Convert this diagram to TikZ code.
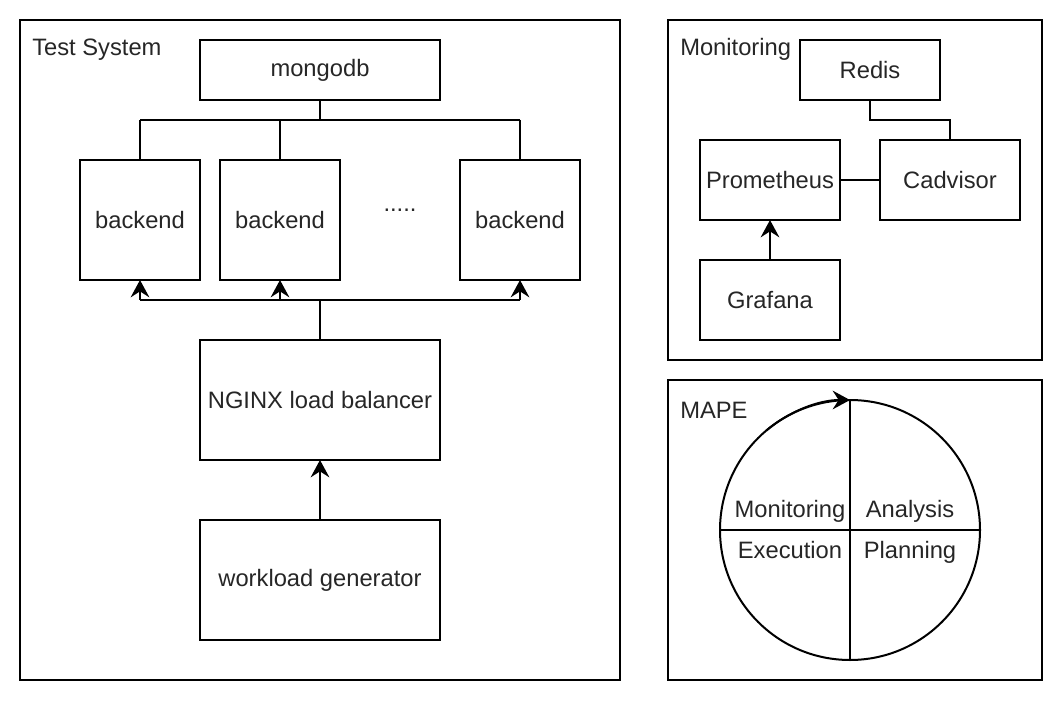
\documentclass[tikz,border=0pt]{standalone}
\usepackage{fontspec}
\setmainfont{Liberation Sans}
\usetikzlibrary{arrows.meta}
\begin{document}
\begin{tikzpicture}[x=0.75pt,y=-0.75pt,
  every node/.style={font=\fontsize{17.8}{21}\selectfont, text=black!85},
  box/.style={draw, line width=1.5pt, inner sep=0pt, outer sep=0pt, align=center},
  frame/.style={draw, line width=1.5pt},
  conn/.style={line width=1.5pt},
  arr/.style={line width=1.5pt, -{Stealth[length=13pt,width=14pt,inset=4.5pt]}},
  lbl/.style={anchor=base west, inner sep=0pt},
  quad/.style={anchor=base, inner sep=0pt}]
\useasboundingbox (0,0) rectangle (1064,702);
% frames
\draw[frame] (20,20) rectangle (620,680);
\draw[frame] (668,20) rectangle (1042,360);
\draw[frame] (668,380) rectangle (1042,680);
\node[lbl] (tslbl) at (32,56) {Test System};
\node[lbl] (monlbl) at (680,56) {Monitoring};
\node[lbl] (mapelbl) at (680,418) {MAPE};
% test system
\node[box, minimum width=180pt, minimum height=45pt] (mongo) at (320,70) {mongodb};
\node[box, minimum width=90pt, minimum height=90pt] (b1) at (140,220) {backend};
\node[box, minimum width=90pt, minimum height=90pt] (b2) at (280,220) {backend};
\node[box, minimum width=90pt, minimum height=90pt] (b3) at (520,220) {backend};
\node (dots) at (400,210) {.....};
\node[box, minimum width=180pt, minimum height=90pt] (nginx) at (320,400) {NGINX load balancer};
\node[box, minimum width=180pt, minimum height=90pt] (wg) at (320,580) {workload generator};
\coordinate (jm) at (320,120);
\coordinate (jn) at (320,300);
\draw[conn] (mongo.south) -- (jm);
\draw[conn] (b1.north |- jm) -- (b3.north |- jm);
\draw[conn] (b1.north |- jm) -- (b1.north);
\draw[conn] (b2.north |- jm) -- (b2.north);
\draw[conn] (b3.north |- jm) -- (b3.north);
\draw[conn] (nginx.north) -- (jn);
\draw[conn] (b1.south |- jn) -- (b3.south |- jn);
\draw[arr] (b1.south |- jn) -- (b1.south);
\draw[arr] (b2.south |- jn) -- (b2.south);
\draw[arr] (b3.south |- jn) -- (b3.south);
\draw[arr] (wg.north) -- (nginx.south);
% monitoring
\node[box, minimum width=105pt, minimum height=45pt] (redis) at (870,70) {Redis};
\node[box, minimum width=105pt, minimum height=60pt] (prom) at (770,180) {Prometheus};
\node[box, minimum width=105pt, minimum height=60pt] (cad) at (950,180) {Cadvisor};
\node[box, minimum width=105pt, minimum height=60pt] (graf) at (770,300) {Grafana};
\draw[conn] (redis.south) -- ++(0,20) -| (cad.north);
\draw[conn] (prom.east) -- (cad.west);
\draw[arr] (graf.north) -- (prom.south);
% MAPE
\node[draw, circle, line width=1.5pt, minimum size=195pt, inner sep=0pt, outer sep=0pt] (mc) at (850,530) {};
\draw[conn] (mc.north) -- (mc.south);
\draw[conn] (mc.west) -- (mc.east);
\draw[arr] (mc.130) arc[start angle=130, end angle=90, radius=97.5pt];
\node[quad] (qm) at (790,517) {Monitoring};
\node[quad] (qa) at (910,517) {Analysis};
\node[quad] (qe) at (790,558) {Execution};
\node[quad] (qp) at (910,558) {Planning};
\end{tikzpicture}
\end{document}
